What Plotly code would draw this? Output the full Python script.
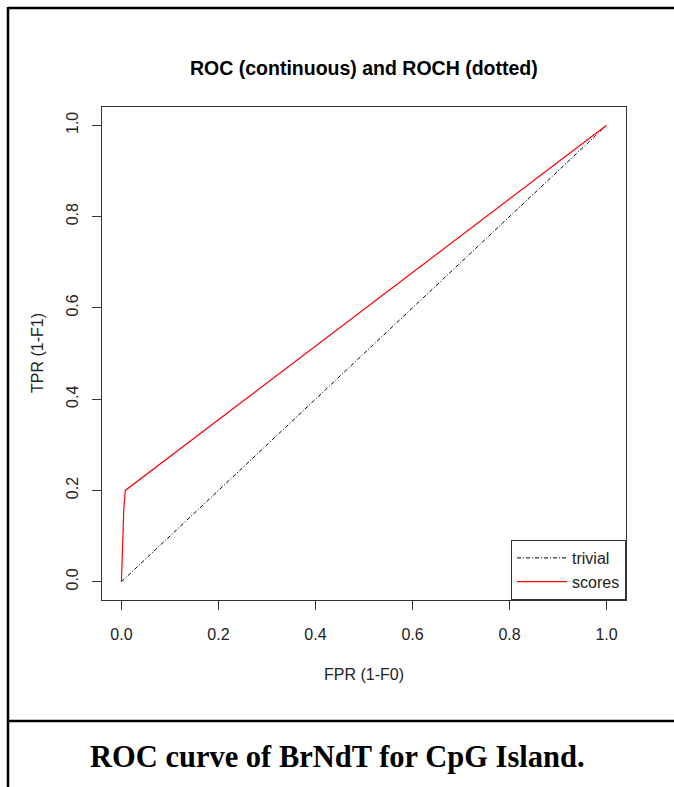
import plotly.graph_objects as go

# Data
trivial_fpr = [0.0, 1.0]
trivial_tpr = [0.0, 1.0]
scores_fpr = [0.0, 0.001, 0.003, 0.005, 0.008, 1.0]
scores_tpr = [0.0, 0.03, 0.10, 0.16, 0.20, 1.0]
tick_vals = [0.0, 0.2, 0.4, 0.6, 0.8, 1.0]
tick_text = ["0.0", "0.2", "0.4", "0.6", "0.8", "1.0"]

W, H = 674, 787
ML, MR, MT, MB = 102, 48, 107, 187
PW, PH = W - ML - MR, H - MT - MB

def px(x):
    return (x - ML) / PW

def py(y):
    return (H - MB - y) / PH

FONT = "Liberation Sans, Arial, sans-serif"

fig = go.Figure()
fig.add_trace(go.Scatter(x=trivial_fpr, y=trivial_tpr, mode="lines", name="trivial",
                         line=dict(color="black", width=1, dash="4px,2px,1px,2px")))
fig.add_trace(go.Scatter(x=scores_fpr, y=scores_tpr, mode="lines", name="scores",
                         line=dict(color="#ff0000", width=1.2)))

axis_common = dict(range=[-0.04, 1.04], tickmode="array", tickvals=tick_vals, ticktext=tick_text,
                   showgrid=False, zeroline=False, showline=True, linecolor="#333333", linewidth=1,
                   mirror=True, ticks="outside", ticklen=9, tickcolor="#333333", tickwidth=1,
                   tickfont=dict(family=FONT, size=16, color="#222222"))
fig.update_xaxes(**axis_common, ticklabelstandoff=11)
fig.update_yaxes(**axis_common, tickangle=-90, ticklabelstandoff=8)

shapes = [
    dict(type="line", xref="paper", yref="paper", x0=px(8), x1=px(674), y0=py(8), y1=py(8),
         line=dict(color="black", width=2.5)),
    dict(type="line", xref="paper", yref="paper", x0=px(8), x1=px(8), y0=py(7), y1=py(800),
         line=dict(color="black", width=2.5)),
    dict(type="line", xref="paper", yref="paper", x0=px(8), x1=px(674), y0=py(721), y1=py(721),
         line=dict(color="black", width=2.5)),
]

annotations = [
    dict(text="<b>ROC (continuous) and ROCH (dotted)</b>", xref="paper", yref="paper",
         x=0.5, y=py(68), showarrow=False, xanchor="center", yanchor="middle",
         font=dict(family=FONT, size=19.5, color="black")),
    dict(text="FPR (1-F0)", xref="paper", yref="paper", x=0.5, y=py(674), showarrow=False,
         xanchor="center", yanchor="middle", font=dict(family=FONT, size=16, color="#222222")),
    dict(text="TPR (1-F1)", xref="paper", yref="paper", x=px(37), y=py(353), showarrow=False,
         textangle=-90, xanchor="center", yanchor="middle",
         font=dict(family=FONT, size=16, color="#222222")),
    dict(text="<b>ROC curve of BrNdT for CpG Island.</b>", xref="paper", yref="paper",
         x=px(337), y=py(757), showarrow=False, xanchor="center", yanchor="middle",
         font=dict(family="Liberation Serif, Times New Roman, serif", size=30.5, color="black")),
]

fig.update_layout(
    width=W, height=H, margin=dict(l=ML, r=MR, t=MT, b=MB),
    paper_bgcolor="white", plot_bgcolor="white",
    shapes=shapes, annotations=annotations,
    showlegend=True,
    legend=dict(x=1, y=0, xanchor="right", yanchor="bottom", bgcolor="white",
                bordercolor="#333333", borderwidth=1,
                font=dict(family=FONT, size=16, color="#222222"),
                tracegroupgap=0, itemwidth=50),
)

fig.write_html("out.html")
